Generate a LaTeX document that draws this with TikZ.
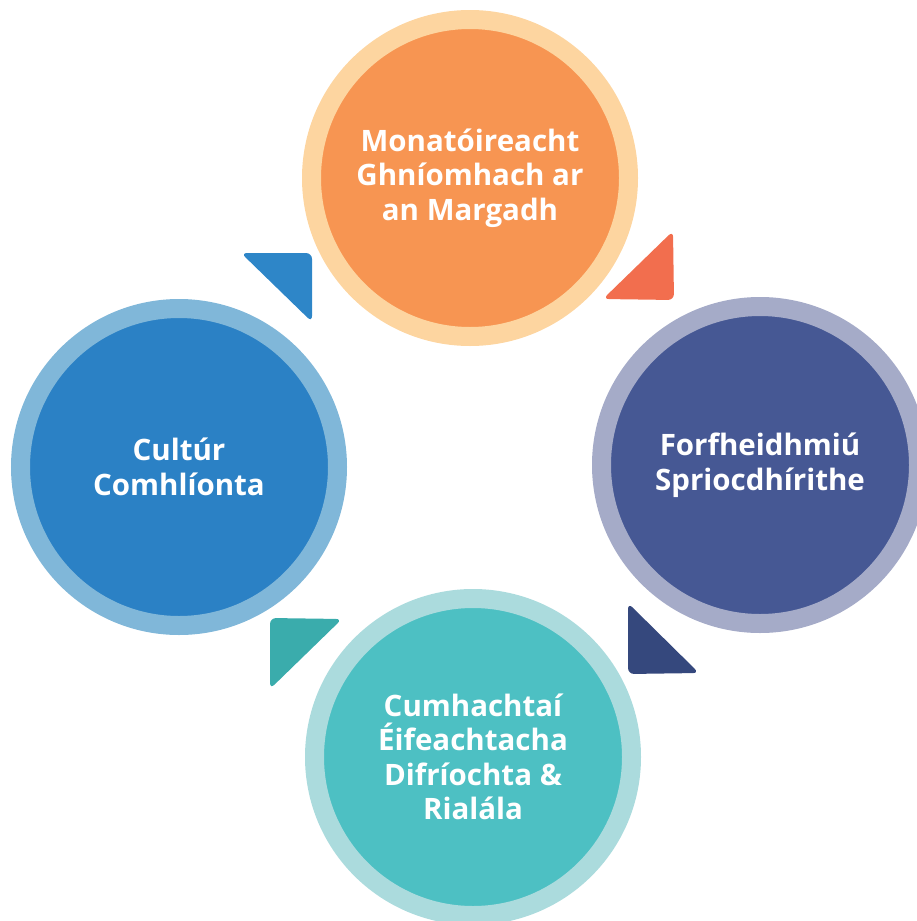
\documentclass[tikz,border=0pt]{standalone}
\usepackage{fontspec}
\setmainfont{Open Sans}

\definecolor{monFill}{HTML}{F79552}
\definecolor{monRing}{HTML}{FDD5A0}
\definecolor{forFill}{HTML}{465894}
\definecolor{forRing}{HTML}{A5ABC8}
\definecolor{culFill}{HTML}{2B81C5}
\definecolor{culRing}{HTML}{80B7D9}
\definecolor{cumFill}{HTML}{4DC0C3}
\definecolor{cumRing}{HTML}{ABDBDD}
\definecolor{tipBlue}{HTML}{2E86C8}
\definecolor{tipOrange}{HTML}{F26E4E}
\definecolor{tipNavy}{HTML}{35487D}
\definecolor{tipTeal}{HTML}{3AACAC}

\begin{document}
\begin{tikzpicture}[x=1pt,y=-1pt,
    disc/.style={circle,minimum size=317pt,inner sep=0pt,line width=19pt,
      align=center,text=white,font=\fontsize{29.5}{34.5}\selectfont\bfseries},
    tip/.style={rounded corners=6pt}]
    \useasboundingbox (0,0) rectangle (916,921);
    % the four rings
    \node[disc,fill=monFill,draw=monRing] (monitor) at (470,178)
      {Monatóireacht\\Ghníomhach ar\\an Margadh};
    \node[disc,fill=forFill,draw=forRing] (forf) at (760,465)
      {Forfheidhmiú\\Spriocdhírithe};
    \node[disc,fill=cumFill,draw=cumRing] (cumh) at (473,757)
      {Cumhachtaí\\Éifeachtacha\\Difríochta \&\\Rialála};
    \node[disc,fill=culFill,draw=culRing] (cult) at (179,467)
      {Cultúr\\Comhlíonta};
    % arrow heads between them
    \fill[tip,tipBlue] (241,253) -- (312,253) -- (312,322) -- cycle;
    \fill[tip,tipOrange] (673,231) -- (674,300) -- (603,299) -- cycle;
    \fill[tip,tipNavy] (628,603) -- (699,673) -- (628,674) -- cycle;
    \fill[tip,tipTeal] (270,618) -- (342,619) -- (270,689) -- cycle;
\end{tikzpicture}
\end{document}
